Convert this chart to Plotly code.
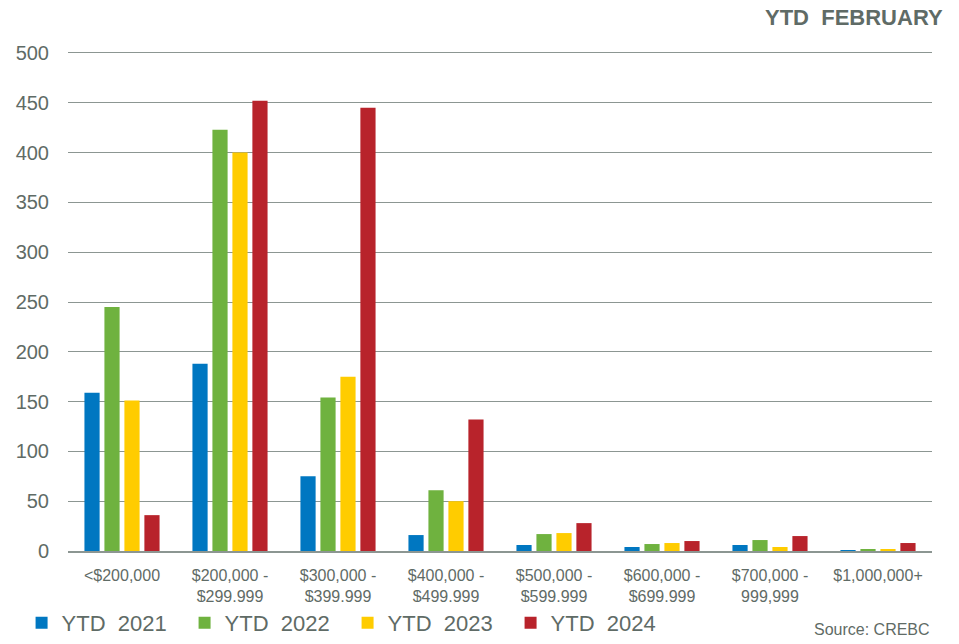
import plotly.graph_objects as go

categories = ["<$200,000", "$200,000 -<br>$299,999", "$300,000 -<br>$399,999", "$400,000 -<br>$499,999",
              "$500,000 -<br>$599,999", "$600,000 -<br>$699,999", "$700,000 -<br>999,999", "$1,000,000+"]
ytd_2021 = [159, 188, 75, 16, 6, 4, 6, 1]
ytd_2022 = [245, 423, 154, 61, 17, 7, 11, 2]
ytd_2023 = [151, 400, 175, 50, 18, 8, 4, 2]
ytd_2024 = [36, 452, 445, 132, 28, 10, 15, 8]
series_names = ["YTD\u00a0\u00a02021", "YTD\u00a0\u00a02022", "YTD\u00a0\u00a02023", "YTD\u00a0\u00a02024"]
colors = ["#0077C1", "#6FB23F", "#FFCC00", "#B8232B"]
y_ticks = [0, 50, 100, 150, 200, 250, 300, 350, 400, 450, 500]

text_color = "#5F6B66"
grid_color = "#8C9692"

fig = go.Figure()
for name, vals, col in zip(series_names, [ytd_2021, ytd_2022, ytd_2023, ytd_2024], colors):
    fig.add_trace(go.Bar(x=categories, y=vals, name=name, marker=dict(color=col, line=dict(width=0))))

fig.update_layout(
    width=959, height=644,
    barmode="group", bargap=0.26, bargroupgap=0.24,
    plot_bgcolor="white", paper_bgcolor="white",
    margin=dict(l=68, r=27, t=51, b=93, autoexpand=False),
    font=dict(family="Liberation Sans, Arial, sans-serif", color=text_color),
    showlegend=True,
    legend=dict(orientation="h", xref="container", yref="container", x=0.0225, xanchor="left",
                y=0.0, yanchor="bottom",
                font=dict(size=22, color=text_color), traceorder="normal",
                entrywidth=118, entrywidthmode="pixels"),
    yaxis=dict(range=[0, 502], tickvals=y_ticks, showgrid=True, gridcolor=grid_color, gridwidth=1,
               zeroline=False, showline=False, ticks="", tickfont=dict(size=20, color=text_color),
               ticklabelstandoff=18),
    xaxis=dict(showline=True, linecolor=grid_color, linewidth=2, ticks="", showgrid=False,
               tickfont=dict(size=16, color=text_color), tickangle=0, ticklabelstandoff=9),
)

fig.add_annotation(text="<b>YTD\u00a0\u00a0FEBRUARY</b>", xref="paper", yref="paper",
                   x=1.015, y=1.066, xanchor="right", yanchor="middle", showarrow=False,
                   font=dict(size=22, color=text_color))
fig.add_annotation(text="Source: CREBC", xref="paper", yref="paper",
                   x=1.0, y=-0.178, xanchor="right", yanchor="bottom", showarrow=False,
                   font=dict(size=16, color=text_color))

fig.write_html("out.html", config={"displayModeBar": False},
               post_script="document.body.style.margin='0';document.body.style.padding='0';")
